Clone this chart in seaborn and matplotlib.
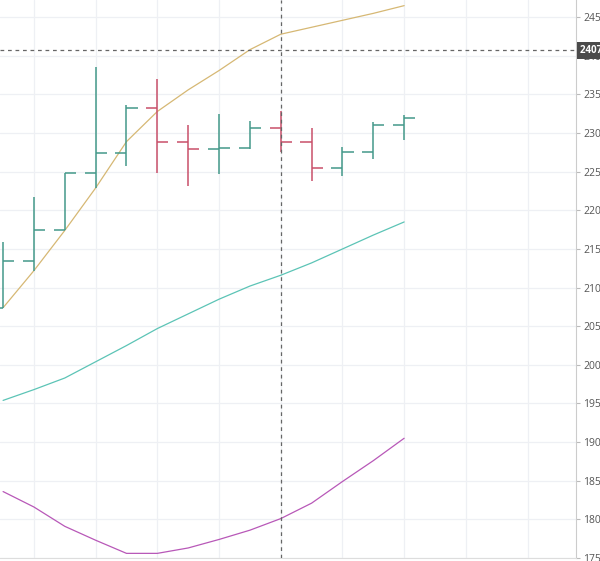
import numpy as np
import pandas as pd
import matplotlib
matplotlib.use("Agg")
import matplotlib.pyplot as plt
import matplotlib.transforms as mtransforms
import seaborn as sns

# OHLC bars (one per session)
bar_idx = list(range(14))
opens = [2074, 2134, 2174, 2248, 2274, 2333, 2289, 2280, 2281, 2306, 2288, 2255, 2276, 2311]
highs = [2159, 2217, 2248, 2386, 2336, 2370, 2311, 2325, 2316, 2328, 2307, 2282, 2314, 2323]
lows = [2074, 2122, 2174, 2229, 2258, 2248, 2232, 2247, 2280, 2275, 2238, 2244, 2267, 2291]
closes = [2134, 2174, 2248, 2274, 2333, 2289, 2280, 2281, 2306, 2288, 2255, 2276, 2311, 2319]

# moving averages
ma_fast = [2074, 2122, 2174, 2229, 2289, 2328, 2356, 2381, 2408, 2428, 2437, 2446, 2455, 2465]
ma_mid = [1954, 1968, 1983, 2004, 2025, 2047, 2066, 2085, 2102, 2116, 2132, 2150, 2168, 2185]
ma_slow = [1836, 1816, 1791, 1773, 1756, 1756, 1763, 1774, 1786, 1801, 1821, 1849, 1876, 1905]

y_ticks = list(range(1750, 2500, 50))
cross_idx = 9
cross_price = 2407

UP = "#44998a"
DOWN = "#c9506a"

sns.set_style("white")
plt.rcParams["font.family"] = ["Open Sans", "DejaVu Sans"]

fig = plt.figure(figsize=(6, 5.61), dpi=100)
ax = fig.add_axes([0, 3 / 561, 576 / 600, 558 / 561])

df = pd.DataFrame({"i": bar_idx, "fast": ma_fast, "mid": ma_mid, "slow": ma_slow})
sns.lineplot(data=df, x="i", y="fast", ax=ax, color="#d6b874", lw=0.9)
sns.lineplot(data=df, x="i", y="mid", ax=ax, color="#5cc4b6", lw=0.9)
sns.lineplot(data=df, x="i", y="slow", ax=ax, color="#b858b8", lw=0.9)

# OHLC bars
tick_w = 0.36
for i, o, h, l, c in zip(bar_idx, opens, highs, lows, closes):
    col = UP if c >= o else DOWN
    ax.vlines(i, l, h, color=col, lw=1.1, zorder=3)
    ax.hlines(o, i - tick_w, i, color=col, lw=1.1, zorder=3)
    ax.hlines(c, i, i + tick_w, color=col, lw=1.1, zorder=3)

ax.set_xlim(-0.1, 18.57)
ax.set_ylim(1752.6, 2472.3)

# grid
ax.set_yticks(y_ticks)
ax.set_xticks(range(1, 19, 2))
ax.grid(True, color="#eef0f4", lw=0.9)
ax.set_axisbelow(True)

# crosshair
ax.axvline(cross_idx, color="#666666", lw=0.9, ls=(0, (3, 3)), zorder=4)
ax.axhline(cross_price, color="#666666", lw=0.9, ls=(0, (3, 3)), zorder=4)

ax.yaxis.tick_right()
ax.tick_params(axis="y", which="both", right=True, length=3, width=0.8,
               color="#bbbbbb", labelsize=7.5, labelcolor="#555555", pad=2)
ax.tick_params(axis="x", bottom=False, labelbottom=False)
ax.set_xlabel("")
ax.set_ylabel("")

for side in ["left", "top"]:
    ax.spines[side].set_visible(False)
ax.spines["right"].set_color("#cccccc")
ax.spines["bottom"].set_color("#dddddd")

# crosshair price label
trans = mtransforms.blended_transform_factory(ax.transAxes, ax.transData)
trans = trans + mtransforms.ScaledTranslation(4 / 100, 0, fig.dpi_scale_trans)
ax.text(1.0, cross_price, str(cross_price) + "  ", transform=trans,
        ha="left", va="center", fontsize=7, fontweight="bold", color="white",
        bbox=dict(boxstyle="square,pad=0.35", fc="#4a4a4a", ec="none"),
        zorder=6, clip_on=False)

fig.savefig("out.png", dpi=100)
